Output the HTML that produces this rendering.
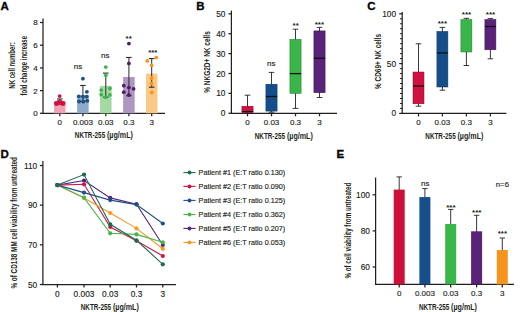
<!DOCTYPE html>
<html><head><meta charset="utf-8"><style>
html,body{margin:0;padding:0;background:#fff;}
body{width:520px;height:312px;overflow:hidden;}
svg{display:block;font-family:"Liberation Sans", sans-serif;}
</style></head><body>
<svg width="520" height="312" viewBox="0 0 520 312">
<rect width="520" height="312" fill="#fff"/>
<text x="0.6" y="10.0" font-size="11.5" font-weight="bold" fill="#000" stroke="#000" stroke-width="0.3">A</text>
<line x1="43.0" y1="18.5" x2="43.0" y2="113.85" stroke="#231f20" stroke-width="1.25"/>
<line x1="42.45" y1="113.3" x2="165" y2="113.3" stroke="#231f20" stroke-width="1.25"/>
<line x1="40.0" y1="113.3" x2="43.0" y2="113.3" stroke="#231f20" stroke-width="1.25"/>
<text x="37.7" y="116.2" font-size="8" text-anchor="end" fill="#231f20" stroke="#231f20" stroke-width="0.15">0</text>
<line x1="40.0" y1="90.6" x2="43.0" y2="90.6" stroke="#231f20" stroke-width="1.25"/>
<text x="37.7" y="93.5" font-size="8" text-anchor="end" fill="#231f20" stroke="#231f20" stroke-width="0.15">2</text>
<line x1="40.0" y1="67.9" x2="43.0" y2="67.9" stroke="#231f20" stroke-width="1.25"/>
<text x="37.7" y="70.8" font-size="8" text-anchor="end" fill="#231f20" stroke="#231f20" stroke-width="0.15">4</text>
<line x1="40.0" y1="45.2" x2="43.0" y2="45.2" stroke="#231f20" stroke-width="1.25"/>
<text x="37.7" y="48.1" font-size="8" text-anchor="end" fill="#231f20" stroke="#231f20" stroke-width="0.15">6</text>
<line x1="40.0" y1="22.5" x2="43.0" y2="22.5" stroke="#231f20" stroke-width="1.25"/>
<text x="37.7" y="25.4" font-size="8" text-anchor="end" fill="#231f20" stroke="#231f20" stroke-width="0.15">8</text>
<text x="14.9" y="65.5" font-size="8.7" text-anchor="middle" font-weight="bold" textLength="46.5" lengthAdjust="spacingAndGlyphs" transform="rotate(-90 14.9 65.5)" fill="#231f20">NK cell number:</text>
<text x="26.6" y="65.75" font-size="8.7" text-anchor="middle" font-weight="bold" textLength="59.5" lengthAdjust="spacingAndGlyphs" transform="rotate(-90 26.6 65.75)" fill="#231f20">fold change increase</text>
<line x1="59.8" y1="113.3" x2="59.8" y2="116.3" stroke="#231f20" stroke-width="1.25"/>
<text x="59.8" y="125.4" font-size="8" text-anchor="middle" fill="#231f20" stroke="#231f20" stroke-width="0.15">0</text>
<line x1="82.9" y1="113.3" x2="82.9" y2="116.3" stroke="#231f20" stroke-width="1.25"/>
<text x="82.9" y="125.4" font-size="8" text-anchor="middle" fill="#231f20" stroke="#231f20" stroke-width="0.15">0.003</text>
<line x1="105.8" y1="113.3" x2="105.8" y2="116.3" stroke="#231f20" stroke-width="1.25"/>
<text x="105.8" y="125.4" font-size="8" text-anchor="middle" fill="#231f20" stroke="#231f20" stroke-width="0.15">0.03</text>
<line x1="128.9" y1="113.3" x2="128.9" y2="116.3" stroke="#231f20" stroke-width="1.25"/>
<text x="128.9" y="125.4" font-size="8" text-anchor="middle" fill="#231f20" stroke="#231f20" stroke-width="0.15">0.3</text>
<line x1="151.7" y1="113.3" x2="151.7" y2="116.3" stroke="#231f20" stroke-width="1.25"/>
<text x="151.7" y="125.4" font-size="8" text-anchor="middle" fill="#231f20" stroke="#231f20" stroke-width="0.15">3</text>
<text x="74.8" y="138.3" font-size="9.1" font-weight="bold" textLength="30.4" lengthAdjust="spacingAndGlyphs" fill="#231f20">NKTR-255</text>
<text x="107.0" y="138.3" font-size="9.1" font-weight="bold" textLength="25.9" lengthAdjust="spacingAndGlyphs" fill="#231f20">(µg/mL)</text>
<rect x="54.05" y="102.52" width="11.50" height="10.78" fill="#f2a2b5"/>
<rect x="77.15" y="95.14" width="11.50" height="18.16" fill="#8dabc9"/>
<rect x="100.05" y="85.83" width="11.50" height="27.47" fill="#a3daa2"/>
<rect x="123.15" y="76.98" width="11.50" height="36.32" fill="#ad96c2"/>
<rect x="145.95" y="73.57" width="11.50" height="39.73" fill="#fcc887"/>
<line x1="59.8" y1="99.0" x2="59.8" y2="102.86" stroke="#2a2a2a" stroke-width="1.0"/>
<line x1="57.0" y1="99.0" x2="62.6" y2="99.0" stroke="#2a2a2a" stroke-width="1.1"/>
<line x1="57.0" y1="102.86" x2="62.6" y2="102.86" stroke="#2a2a2a" stroke-width="1.1"/>
<circle cx="59.70" cy="96.10" r="1.9" fill="#d0123f"/>
<circle cx="55.90" cy="103.00" r="1.9" fill="#d0123f"/>
<circle cx="58.40" cy="101.80" r="1.9" fill="#d0123f"/>
<circle cx="61.00" cy="101.80" r="1.9" fill="#d0123f"/>
<circle cx="63.60" cy="103.00" r="1.9" fill="#d0123f"/>
<circle cx="56.30" cy="104.00" r="1.9" fill="#d0123f"/>
<circle cx="63.20" cy="104.00" r="1.9" fill="#d0123f"/>
<circle cx="58.00" cy="103.60" r="1.9" fill="#d0123f"/>
<circle cx="61.40" cy="103.60" r="1.9" fill="#d0123f"/>
<circle cx="59.70" cy="102.60" r="1.9" fill="#d0123f"/>
<line x1="82.9" y1="85.49" x2="82.9" y2="101.38" stroke="#2a2a2a" stroke-width="1.0"/>
<line x1="80.1" y1="85.49" x2="85.7" y2="85.49" stroke="#2a2a2a" stroke-width="1.1"/>
<line x1="80.1" y1="101.38" x2="85.7" y2="101.38" stroke="#2a2a2a" stroke-width="1.1"/>
<circle cx="82.90" cy="78.70" r="1.9" fill="#1c4f84"/>
<circle cx="86.90" cy="91.80" r="1.9" fill="#1c4f84"/>
<circle cx="78.80" cy="96.30" r="1.9" fill="#1c4f84"/>
<circle cx="83.00" cy="96.60" r="1.9" fill="#1c4f84"/>
<circle cx="86.80" cy="96.60" r="1.9" fill="#1c4f84"/>
<circle cx="79.00" cy="101.50" r="1.9" fill="#1c4f84"/>
<circle cx="83.40" cy="101.70" r="1.9" fill="#1c4f84"/>
<circle cx="87.40" cy="100.80" r="1.9" fill="#1c4f84"/>
<line x1="105.8" y1="73.12" x2="105.8" y2="97.18" stroke="#2a2a2a" stroke-width="1.0"/>
<line x1="103.0" y1="73.12" x2="108.6" y2="73.12" stroke="#2a2a2a" stroke-width="1.1"/>
<line x1="103.0" y1="97.18" x2="108.6" y2="97.18" stroke="#2a2a2a" stroke-width="1.1"/>
<circle cx="105.80" cy="67.10" r="1.9" fill="#3cb54a"/>
<circle cx="105.80" cy="75.20" r="1.9" fill="#3cb54a"/>
<circle cx="101.20" cy="90.10" r="1.9" fill="#3cb54a"/>
<circle cx="109.90" cy="88.50" r="1.9" fill="#3cb54a"/>
<circle cx="101.20" cy="94.70" r="1.9" fill="#3cb54a"/>
<circle cx="109.90" cy="94.90" r="1.9" fill="#3cb54a"/>
<circle cx="105.70" cy="97.20" r="1.9" fill="#3cb54a"/>
<line x1="128.9" y1="57.46" x2="128.9" y2="95.71" stroke="#2a2a2a" stroke-width="1.0"/>
<line x1="126.1" y1="57.46" x2="131.7" y2="57.46" stroke="#2a2a2a" stroke-width="1.1"/>
<line x1="126.1" y1="95.71" x2="131.7" y2="95.71" stroke="#2a2a2a" stroke-width="1.1"/>
<circle cx="128.90" cy="43.60" r="1.9" fill="#4e1f69"/>
<circle cx="128.90" cy="63.40" r="1.9" fill="#4e1f69"/>
<circle cx="123.80" cy="85.70" r="1.9" fill="#4e1f69"/>
<circle cx="128.90" cy="87.60" r="1.9" fill="#4e1f69"/>
<circle cx="133.60" cy="88.80" r="1.9" fill="#4e1f69"/>
<circle cx="123.80" cy="92.20" r="1.9" fill="#4e1f69"/>
<circle cx="128.90" cy="95.00" r="1.9" fill="#4e1f69"/>
<line x1="151.7" y1="58.59" x2="151.7" y2="87.19" stroke="#2a2a2a" stroke-width="1.0"/>
<line x1="148.9" y1="58.59" x2="154.5" y2="58.59" stroke="#2a2a2a" stroke-width="1.1"/>
<line x1="148.9" y1="87.19" x2="154.5" y2="87.19" stroke="#2a2a2a" stroke-width="1.1"/>
<circle cx="147.30" cy="60.90" r="1.9" fill="#f7941d"/>
<circle cx="156.20" cy="57.60" r="1.9" fill="#f7941d"/>
<circle cx="151.60" cy="65.40" r="1.9" fill="#f7941d"/>
<circle cx="151.60" cy="78.00" r="1.9" fill="#f7941d"/>
<circle cx="151.60" cy="83.50" r="1.9" fill="#f7941d"/>
<circle cx="151.80" cy="92.40" r="1.9" fill="#f7941d"/>
<text x="78" y="69.4" font-size="8" text-anchor="middle" fill="#231f20" stroke="#231f20" stroke-width="0.15">ns</text>
<text x="105.2" y="57.9" font-size="8" text-anchor="middle" fill="#231f20" stroke="#231f20" stroke-width="0.15">ns</text>
<text x="128.7" y="40.7" font-size="8" text-anchor="middle" font-weight="bold" fill="#231f20">**</text>
<text x="152.8" y="54.6" font-size="8" text-anchor="middle" font-weight="bold" fill="#231f20">***</text>
<text x="196.2" y="10.0" font-size="11.5" font-weight="bold" fill="#000" stroke="#000" stroke-width="0.3">B</text>
<line x1="231.4" y1="10.6" x2="231.4" y2="113.85" stroke="#231f20" stroke-width="1.25"/>
<line x1="230.85" y1="113.3" x2="337" y2="113.3" stroke="#231f20" stroke-width="1.25"/>
<line x1="228.4" y1="113.3" x2="231.4" y2="113.3" stroke="#231f20" stroke-width="1.25"/>
<text x="225.4" y="116.3" font-size="8.3" text-anchor="end" fill="#231f20" stroke="#231f20" stroke-width="0.15">0</text>
<line x1="228.4" y1="93.4" x2="231.4" y2="93.4" stroke="#231f20" stroke-width="1.25"/>
<text x="225.4" y="96.4" font-size="8.3" text-anchor="end" fill="#231f20" stroke="#231f20" stroke-width="0.15">10</text>
<line x1="228.4" y1="73.5" x2="231.4" y2="73.5" stroke="#231f20" stroke-width="1.25"/>
<text x="225.4" y="76.5" font-size="8.3" text-anchor="end" fill="#231f20" stroke="#231f20" stroke-width="0.15">20</text>
<line x1="228.4" y1="53.6" x2="231.4" y2="53.6" stroke="#231f20" stroke-width="1.25"/>
<text x="225.4" y="56.6" font-size="8.3" text-anchor="end" fill="#231f20" stroke="#231f20" stroke-width="0.15">30</text>
<line x1="228.4" y1="33.7" x2="231.4" y2="33.7" stroke="#231f20" stroke-width="1.25"/>
<text x="225.4" y="36.7" font-size="8.3" text-anchor="end" fill="#231f20" stroke="#231f20" stroke-width="0.15">40</text>
<line x1="228.4" y1="13.8" x2="231.4" y2="13.8" stroke="#231f20" stroke-width="1.25"/>
<text x="225.4" y="16.8" font-size="8.3" text-anchor="end" fill="#231f20" stroke="#231f20" stroke-width="0.15">50</text>
<text x="209.9" y="62.0" font-size="8.7" text-anchor="middle" font-weight="bold" textLength="61.5" lengthAdjust="spacingAndGlyphs" transform="rotate(-90 209.9 62.0)" fill="#231f20">% NKG2D+ NK cells</text>
<line x1="247.5" y1="113.3" x2="247.5" y2="116.3" stroke="#231f20" stroke-width="1.25"/>
<text x="247.5" y="125.4" font-size="8" text-anchor="middle" fill="#231f20" stroke="#231f20" stroke-width="0.15">0</text>
<line x1="271.5" y1="113.3" x2="271.5" y2="116.3" stroke="#231f20" stroke-width="1.25"/>
<text x="271.5" y="125.4" font-size="8" text-anchor="middle" fill="#231f20" stroke="#231f20" stroke-width="0.15">0.03</text>
<line x1="295.5" y1="113.3" x2="295.5" y2="116.3" stroke="#231f20" stroke-width="1.25"/>
<text x="295.5" y="125.4" font-size="8" text-anchor="middle" fill="#231f20" stroke="#231f20" stroke-width="0.15">0.3</text>
<line x1="319.5" y1="113.3" x2="319.5" y2="116.3" stroke="#231f20" stroke-width="1.25"/>
<text x="319.5" y="125.4" font-size="8" text-anchor="middle" fill="#231f20" stroke="#231f20" stroke-width="0.15">3</text>
<text x="254.7" y="138.8" font-size="9.1" font-weight="bold" textLength="30.4" lengthAdjust="spacingAndGlyphs" fill="#231f20">NKTR-255</text>
<text x="286.9" y="138.8" font-size="9.1" font-weight="bold" textLength="25.9" lengthAdjust="spacingAndGlyphs" fill="#231f20">(µg/mL)</text>
<line x1="247.5" y1="95.2" x2="247.5" y2="113.2" stroke="#222" stroke-width="0.9"/>
<line x1="244.7" y1="95.2" x2="250.3" y2="95.2" stroke="#222" stroke-width="0.9"/>
<line x1="244.7" y1="113.2" x2="250.3" y2="113.2" stroke="#222" stroke-width="0.9"/>
<rect x="241.90" y="106.20" width="11.20" height="6.40" fill="#cf1241" stroke="#8d0c2c" stroke-width="0.5"/>
<line x1="241.9" y1="111.6" x2="253.1" y2="111.6" stroke="#111" stroke-width="1.3"/>
<line x1="271.5" y1="72.4" x2="271.5" y2="112.2" stroke="#222" stroke-width="0.9"/>
<line x1="268.7" y1="72.4" x2="274.3" y2="72.4" stroke="#222" stroke-width="0.9"/>
<line x1="268.7" y1="112.2" x2="274.3" y2="112.2" stroke="#222" stroke-width="0.9"/>
<rect x="265.90" y="84.20" width="11.20" height="26.90" fill="#144f8c" stroke="#0d3766" stroke-width="0.5"/>
<line x1="265.9" y1="96.5" x2="277.1" y2="96.5" stroke="#111" stroke-width="1.3"/>
<line x1="295.5" y1="29.2" x2="295.5" y2="108.4" stroke="#222" stroke-width="0.9"/>
<line x1="292.7" y1="29.2" x2="298.3" y2="29.2" stroke="#222" stroke-width="0.9"/>
<line x1="292.7" y1="108.4" x2="298.3" y2="108.4" stroke="#222" stroke-width="0.9"/>
<rect x="289.90" y="39.40" width="11.20" height="54.00" fill="#3ab54a" stroke="#247a30" stroke-width="0.5"/>
<line x1="289.9" y1="73.6" x2="301.1" y2="73.6" stroke="#111" stroke-width="1.3"/>
<line x1="319.5" y1="27.4" x2="319.5" y2="97.5" stroke="#222" stroke-width="0.9"/>
<line x1="316.7" y1="27.4" x2="322.3" y2="27.4" stroke="#222" stroke-width="0.9"/>
<line x1="316.7" y1="97.5" x2="322.3" y2="97.5" stroke="#222" stroke-width="0.9"/>
<rect x="313.90" y="30.90" width="11.20" height="61.80" fill="#5a2379" stroke="#3b1650" stroke-width="0.5"/>
<line x1="313.9" y1="58.3" x2="325.1" y2="58.3" stroke="#111" stroke-width="1.3"/>
<text x="271.2" y="65.6" font-size="8" text-anchor="middle" fill="#231f20" stroke="#231f20" stroke-width="0.15">ns</text>
<text x="295.7" y="28.0" font-size="8" text-anchor="middle" font-weight="bold" fill="#231f20">**</text>
<text x="319.4" y="26.6" font-size="8" text-anchor="middle" font-weight="bold" fill="#231f20">***</text>
<text x="367.2" y="10.0" font-size="11.5" font-weight="bold" fill="#000" stroke="#000" stroke-width="0.3">C</text>
<line x1="402.2" y1="11.9" x2="402.2" y2="113.95" stroke="#231f20" stroke-width="1.25"/>
<line x1="401.65" y1="113.4" x2="506.4" y2="113.4" stroke="#231f20" stroke-width="1.25"/>
<line x1="399.2" y1="113.4" x2="402.2" y2="113.4" stroke="#231f20" stroke-width="1.25"/>
<text x="396.1" y="116.4" font-size="8.3" text-anchor="end" fill="#231f20" stroke="#231f20" stroke-width="0.15">0</text>
<line x1="400.0" y1="108.42" x2="402.2" y2="108.42" stroke="#231f20" stroke-width="1.0"/>
<line x1="400.0" y1="103.44" x2="402.2" y2="103.44" stroke="#231f20" stroke-width="1.0"/>
<line x1="400.0" y1="98.46" x2="402.2" y2="98.46" stroke="#231f20" stroke-width="1.0"/>
<line x1="400.0" y1="93.48" x2="402.2" y2="93.48" stroke="#231f20" stroke-width="1.0"/>
<line x1="400.0" y1="88.5" x2="402.2" y2="88.5" stroke="#231f20" stroke-width="1.0"/>
<line x1="400.0" y1="83.52" x2="402.2" y2="83.52" stroke="#231f20" stroke-width="1.0"/>
<line x1="400.0" y1="78.54" x2="402.2" y2="78.54" stroke="#231f20" stroke-width="1.0"/>
<line x1="400.0" y1="73.56" x2="402.2" y2="73.56" stroke="#231f20" stroke-width="1.0"/>
<line x1="400.0" y1="68.58" x2="402.2" y2="68.58" stroke="#231f20" stroke-width="1.0"/>
<line x1="399.2" y1="63.6" x2="402.2" y2="63.6" stroke="#231f20" stroke-width="1.25"/>
<text x="396.1" y="66.6" font-size="8.3" text-anchor="end" fill="#231f20" stroke="#231f20" stroke-width="0.15">50</text>
<line x1="400.0" y1="58.62" x2="402.2" y2="58.62" stroke="#231f20" stroke-width="1.0"/>
<line x1="400.0" y1="53.64" x2="402.2" y2="53.64" stroke="#231f20" stroke-width="1.0"/>
<line x1="400.0" y1="48.66" x2="402.2" y2="48.66" stroke="#231f20" stroke-width="1.0"/>
<line x1="400.0" y1="43.68" x2="402.2" y2="43.68" stroke="#231f20" stroke-width="1.0"/>
<line x1="400.0" y1="38.7" x2="402.2" y2="38.7" stroke="#231f20" stroke-width="1.0"/>
<line x1="400.0" y1="33.72" x2="402.2" y2="33.72" stroke="#231f20" stroke-width="1.0"/>
<line x1="400.0" y1="28.74" x2="402.2" y2="28.74" stroke="#231f20" stroke-width="1.0"/>
<line x1="400.0" y1="23.76" x2="402.2" y2="23.76" stroke="#231f20" stroke-width="1.0"/>
<line x1="400.0" y1="18.78" x2="402.2" y2="18.78" stroke="#231f20" stroke-width="1.0"/>
<line x1="399.2" y1="13.8" x2="402.2" y2="13.8" stroke="#231f20" stroke-width="1.25"/>
<text x="396.1" y="16.8" font-size="8.3" text-anchor="end" fill="#231f20" stroke="#231f20" stroke-width="0.15">100</text>
<text x="381.0" y="61.5" font-size="8.7" text-anchor="middle" font-weight="bold" textLength="55" lengthAdjust="spacingAndGlyphs" transform="rotate(-90 381.0 61.5)" fill="#231f20">% CD69+ NK cells</text>
<line x1="418.5" y1="113.4" x2="418.5" y2="116.4" stroke="#231f20" stroke-width="1.25"/>
<text x="418.5" y="125.4" font-size="8" text-anchor="middle" fill="#231f20" stroke="#231f20" stroke-width="0.15">0</text>
<line x1="442.4" y1="113.4" x2="442.4" y2="116.4" stroke="#231f20" stroke-width="1.25"/>
<text x="442.4" y="125.4" font-size="8" text-anchor="middle" fill="#231f20" stroke="#231f20" stroke-width="0.15">0.03</text>
<line x1="466.4" y1="113.4" x2="466.4" y2="116.4" stroke="#231f20" stroke-width="1.25"/>
<text x="466.4" y="125.4" font-size="8" text-anchor="middle" fill="#231f20" stroke="#231f20" stroke-width="0.15">0.3</text>
<line x1="490.4" y1="113.4" x2="490.4" y2="116.4" stroke="#231f20" stroke-width="1.25"/>
<text x="490.4" y="125.4" font-size="8" text-anchor="middle" fill="#231f20" stroke="#231f20" stroke-width="0.15">3</text>
<text x="425.3" y="138.8" font-size="9.1" font-weight="bold" textLength="30.4" lengthAdjust="spacingAndGlyphs" fill="#231f20">NKTR-255</text>
<text x="457.5" y="138.8" font-size="9.1" font-weight="bold" textLength="25.9" lengthAdjust="spacingAndGlyphs" fill="#231f20">(µg/mL)</text>
<line x1="418.5" y1="43.8" x2="418.5" y2="106.2" stroke="#222" stroke-width="0.9"/>
<line x1="415.7" y1="43.8" x2="421.3" y2="43.8" stroke="#222" stroke-width="0.9"/>
<line x1="415.7" y1="106.2" x2="421.3" y2="106.2" stroke="#222" stroke-width="0.9"/>
<rect x="413.00" y="72.00" width="11.00" height="31.80" fill="#cf1241" stroke="#8d0c2c" stroke-width="0.5"/>
<line x1="413.0" y1="86.0" x2="424.0" y2="86.0" stroke="#111" stroke-width="1.3"/>
<line x1="442.4" y1="27.4" x2="442.4" y2="90.2" stroke="#222" stroke-width="0.9"/>
<line x1="439.6" y1="27.4" x2="445.2" y2="27.4" stroke="#222" stroke-width="0.9"/>
<line x1="439.6" y1="90.2" x2="445.2" y2="90.2" stroke="#222" stroke-width="0.9"/>
<rect x="436.90" y="31.40" width="11.00" height="55.60" fill="#144f8c" stroke="#0d3766" stroke-width="0.5"/>
<line x1="436.9" y1="52.9" x2="447.9" y2="52.9" stroke="#111" stroke-width="1.3"/>
<line x1="466.4" y1="18.3" x2="466.4" y2="65.5" stroke="#222" stroke-width="0.9"/>
<line x1="463.6" y1="18.3" x2="469.2" y2="18.3" stroke="#222" stroke-width="0.9"/>
<line x1="463.6" y1="65.5" x2="469.2" y2="65.5" stroke="#222" stroke-width="0.9"/>
<rect x="460.90" y="19.60" width="11.00" height="32.40" fill="#3ab54a" stroke="#247a30" stroke-width="0.5"/>
<line x1="490.4" y1="18.6" x2="490.4" y2="58.8" stroke="#222" stroke-width="0.9"/>
<line x1="487.6" y1="18.6" x2="493.2" y2="18.6" stroke="#222" stroke-width="0.9"/>
<line x1="487.6" y1="58.8" x2="493.2" y2="58.8" stroke="#222" stroke-width="0.9"/>
<rect x="484.90" y="19.50" width="11.00" height="30.30" fill="#5a2379" stroke="#3b1650" stroke-width="0.5"/>
<line x1="484.9" y1="26.5" x2="495.9" y2="26.5" stroke="#111" stroke-width="1.3"/>
<text x="442.4" y="26.4" font-size="8" text-anchor="middle" font-weight="bold" fill="#231f20">***</text>
<text x="466.5" y="17.1" font-size="8" text-anchor="middle" font-weight="bold" fill="#231f20">***</text>
<text x="490.5" y="17.1" font-size="8" text-anchor="middle" font-weight="bold" fill="#231f20">***</text>
<text x="0.4" y="158.1" font-size="11.5" font-weight="bold" fill="#000" stroke="#000" stroke-width="0.3">D</text>
<line x1="42.9" y1="161.0" x2="42.9" y2="285.05" stroke="#231f20" stroke-width="1.25"/>
<line x1="42.35" y1="284.5" x2="176" y2="284.5" stroke="#231f20" stroke-width="1.25"/>
<line x1="39.9" y1="284.5" x2="42.9" y2="284.5" stroke="#231f20" stroke-width="1.25"/>
<text x="37.2" y="287.5" font-size="8.3" text-anchor="end" fill="#231f20" stroke="#231f20" stroke-width="0.15">50</text>
<line x1="39.9" y1="244.84" x2="42.9" y2="244.84" stroke="#231f20" stroke-width="1.25"/>
<text x="37.2" y="247.84" font-size="8.3" text-anchor="end" fill="#231f20" stroke="#231f20" stroke-width="0.15">70</text>
<line x1="39.9" y1="205.18" x2="42.9" y2="205.18" stroke="#231f20" stroke-width="1.25"/>
<text x="37.2" y="208.18" font-size="8.3" text-anchor="end" fill="#231f20" stroke="#231f20" stroke-width="0.15">90</text>
<line x1="39.9" y1="165.52" x2="42.9" y2="165.52" stroke="#231f20" stroke-width="1.25"/>
<text x="37.2" y="168.52" font-size="8.3" text-anchor="end" fill="#231f20" stroke="#231f20" stroke-width="0.15">110</text>
<text x="17.0" y="222.8" font-size="8.7" text-anchor="middle" font-weight="bold" textLength="131.5" lengthAdjust="spacingAndGlyphs" transform="rotate(-90 17.0 222.8)" fill="#231f20">% of CD138 MM cell viability from untreated</text>
<line x1="57.4" y1="284.5" x2="57.4" y2="287.5" stroke="#231f20" stroke-width="1.25"/>
<text x="57.4" y="296.6" font-size="8.3" text-anchor="middle" fill="#231f20" stroke="#231f20" stroke-width="0.15">0</text>
<line x1="84.0" y1="284.5" x2="84.0" y2="287.5" stroke="#231f20" stroke-width="1.25"/>
<text x="84.0" y="296.6" font-size="8.3" text-anchor="middle" fill="#231f20" stroke="#231f20" stroke-width="0.15">0.003</text>
<line x1="110.2" y1="284.5" x2="110.2" y2="287.5" stroke="#231f20" stroke-width="1.25"/>
<text x="110.2" y="296.6" font-size="8.3" text-anchor="middle" fill="#231f20" stroke="#231f20" stroke-width="0.15">0.03</text>
<line x1="136.5" y1="284.5" x2="136.5" y2="287.5" stroke="#231f20" stroke-width="1.25"/>
<text x="136.5" y="296.6" font-size="8.3" text-anchor="middle" fill="#231f20" stroke="#231f20" stroke-width="0.15">0.3</text>
<line x1="162.8" y1="284.5" x2="162.8" y2="287.5" stroke="#231f20" stroke-width="1.25"/>
<text x="162.8" y="296.6" font-size="8.3" text-anchor="middle" fill="#231f20" stroke="#231f20" stroke-width="0.15">3</text>
<text x="80.7" y="309.9" font-size="9.1" font-weight="bold" textLength="30.4" lengthAdjust="spacingAndGlyphs" fill="#231f20">NKTR-255</text>
<text x="112.9" y="309.9" font-size="9.1" font-weight="bold" textLength="25.9" lengthAdjust="spacingAndGlyphs" fill="#231f20">(µg/mL)</text>
<polyline points="57.4,185.1 84.0,180.5 110.2,197.9 136.5,204.2 162.8,245.0" fill="none" stroke="#54267a" stroke-width="1.1"/>
<circle cx="57.40" cy="185.10" r="2.1" fill="#54267a"/>
<circle cx="84.00" cy="180.50" r="2.1" fill="#54267a"/>
<circle cx="110.20" cy="197.90" r="2.1" fill="#54267a"/>
<circle cx="136.50" cy="204.20" r="2.1" fill="#54267a"/>
<circle cx="162.80" cy="245.00" r="2.1" fill="#54267a"/>
<polyline points="57.4,185.1 84.0,184.3 110.2,227.0 136.5,240.8 162.8,256.0" fill="none" stroke="#cc1848" stroke-width="1.1"/>
<circle cx="57.40" cy="185.10" r="2.1" fill="#cc1848"/>
<circle cx="84.00" cy="184.30" r="2.1" fill="#cc1848"/>
<circle cx="110.20" cy="227.00" r="2.1" fill="#cc1848"/>
<circle cx="136.50" cy="240.80" r="2.1" fill="#cc1848"/>
<circle cx="162.80" cy="256.00" r="2.1" fill="#cc1848"/>
<polyline points="57.4,185.1 84.0,197.9 110.2,213.0 136.5,228.4 162.8,248.8" fill="none" stroke="#f59a23" stroke-width="1.1"/>
<circle cx="57.40" cy="185.10" r="2.1" fill="#f59a23"/>
<circle cx="84.00" cy="197.90" r="2.1" fill="#f59a23"/>
<circle cx="110.20" cy="213.00" r="2.1" fill="#f59a23"/>
<circle cx="136.50" cy="228.40" r="2.1" fill="#f59a23"/>
<circle cx="162.80" cy="248.80" r="2.1" fill="#f59a23"/>
<polyline points="57.4,185.1 84.0,197.6 110.2,233.3 136.5,234.4 162.8,242.3" fill="none" stroke="#45b649" stroke-width="1.1"/>
<circle cx="57.40" cy="185.10" r="2.1" fill="#45b649"/>
<circle cx="84.00" cy="197.60" r="2.1" fill="#45b649"/>
<circle cx="110.20" cy="233.30" r="2.1" fill="#45b649"/>
<circle cx="136.50" cy="234.40" r="2.1" fill="#45b649"/>
<circle cx="162.80" cy="242.30" r="2.1" fill="#45b649"/>
<polyline points="57.4,185.1 84.0,192.6 110.2,200.1 136.5,204.6 162.8,223.5" fill="none" stroke="#1f4f86" stroke-width="1.1"/>
<circle cx="57.40" cy="185.10" r="2.1" fill="#1f4f86"/>
<circle cx="84.00" cy="192.60" r="2.1" fill="#1f4f86"/>
<circle cx="110.20" cy="200.10" r="2.1" fill="#1f4f86"/>
<circle cx="136.50" cy="204.60" r="2.1" fill="#1f4f86"/>
<circle cx="162.80" cy="223.50" r="2.1" fill="#1f4f86"/>
<polyline points="57.4,185.1 84.0,174.6 110.2,224.3 136.5,240.3 162.8,264.3" fill="none" stroke="#1c6b52" stroke-width="1.1"/>
<circle cx="57.40" cy="185.10" r="2.1" fill="#1c6b52"/>
<circle cx="84.00" cy="174.60" r="2.1" fill="#1c6b52"/>
<circle cx="110.20" cy="224.30" r="2.1" fill="#1c6b52"/>
<circle cx="136.50" cy="240.30" r="2.1" fill="#1c6b52"/>
<circle cx="162.80" cy="264.30" r="2.1" fill="#1c6b52"/>
<line x1="183.4" y1="172.6" x2="195.6" y2="172.6" stroke="#1c6b52" stroke-width="1.1"/>
<circle cx="189.50" cy="172.60" r="2.0" fill="#1c6b52"/>
<text x="198.6" y="175.2" font-size="7.3" textLength="86.5" lengthAdjust="spacingAndGlyphs" fill="#231f20" stroke="#231f20" stroke-width="0.15">Patient #1 (E:T ratio 0.130)</text>
<line x1="183.4" y1="186.4" x2="195.6" y2="186.4" stroke="#cc1848" stroke-width="1.1"/>
<circle cx="189.50" cy="186.40" r="2.0" fill="#cc1848"/>
<text x="198.6" y="189.0" font-size="7.3" textLength="86.5" lengthAdjust="spacingAndGlyphs" fill="#231f20" stroke="#231f20" stroke-width="0.15">Patient #2 (E:T ratio 0.090)</text>
<line x1="183.4" y1="200.4" x2="195.6" y2="200.4" stroke="#1f4f86" stroke-width="1.1"/>
<circle cx="189.50" cy="200.40" r="2.0" fill="#1f4f86"/>
<text x="198.6" y="203.0" font-size="7.3" textLength="86.5" lengthAdjust="spacingAndGlyphs" fill="#231f20" stroke="#231f20" stroke-width="0.15">Patient #3 (E:T ratio 0.125)</text>
<line x1="183.4" y1="214.5" x2="195.6" y2="214.5" stroke="#45b649" stroke-width="1.1"/>
<circle cx="189.50" cy="214.50" r="2.0" fill="#45b649"/>
<text x="198.6" y="217.1" font-size="7.3" textLength="86.5" lengthAdjust="spacingAndGlyphs" fill="#231f20" stroke="#231f20" stroke-width="0.15">Patient #4 (E:T ratio 0.362)</text>
<line x1="183.4" y1="228.4" x2="195.6" y2="228.4" stroke="#54267a" stroke-width="1.1"/>
<circle cx="189.50" cy="228.40" r="2.0" fill="#54267a"/>
<text x="198.6" y="231.0" font-size="7.3" textLength="86.5" lengthAdjust="spacingAndGlyphs" fill="#231f20" stroke="#231f20" stroke-width="0.15">Patient #5 (E:T ratio 0.207)</text>
<line x1="183.4" y1="242.4" x2="195.6" y2="242.4" stroke="#f59a23" stroke-width="1.1"/>
<circle cx="189.50" cy="242.40" r="2.0" fill="#f59a23"/>
<text x="198.6" y="245.0" font-size="7.3" textLength="86.5" lengthAdjust="spacingAndGlyphs" fill="#231f20" stroke="#231f20" stroke-width="0.15">Patient #6 (E:T ratio 0.053)</text>
<text x="336.6" y="158.0" font-size="11.5" font-weight="bold" fill="#000" stroke="#000" stroke-width="0.3">E</text>
<line x1="375.6" y1="177.5" x2="375.6" y2="284.95" stroke="#231f20" stroke-width="1.25"/>
<line x1="375.05" y1="284.4" x2="514" y2="284.4" stroke="#231f20" stroke-width="1.25"/>
<line x1="372.6" y1="267.0" x2="375.6" y2="267.0" stroke="#231f20" stroke-width="1.25"/>
<text x="369.9" y="270.0" font-size="8.3" text-anchor="end" fill="#231f20" stroke="#231f20" stroke-width="0.15">60</text>
<line x1="372.6" y1="230.9" x2="375.6" y2="230.9" stroke="#231f20" stroke-width="1.25"/>
<text x="369.9" y="233.9" font-size="8.3" text-anchor="end" fill="#231f20" stroke="#231f20" stroke-width="0.15">80</text>
<line x1="372.6" y1="194.8" x2="375.6" y2="194.8" stroke="#231f20" stroke-width="1.25"/>
<text x="369.9" y="197.8" font-size="8.3" text-anchor="end" fill="#231f20" stroke="#231f20" stroke-width="0.15">100</text>
<text x="351.2" y="230.6" font-size="8.7" text-anchor="middle" font-weight="bold" textLength="95.8" lengthAdjust="spacingAndGlyphs" transform="rotate(-90 351.2 230.6)" fill="#231f20">% of cell viability from untreated</text>
<line x1="399.2" y1="176.9" x2="399.2" y2="191.6" stroke="#222" stroke-width="0.9"/>
<line x1="396.5" y1="176.9" x2="401.9" y2="176.9" stroke="#222" stroke-width="0.9"/>
<rect x="393.70" y="189.60" width="11.00" height="94.80" fill="#cc103a"/>
<line x1="424.9" y1="188.6" x2="424.9" y2="199.1" stroke="#222" stroke-width="0.9"/>
<line x1="422.2" y1="188.6" x2="427.6" y2="188.6" stroke="#222" stroke-width="0.9"/>
<rect x="419.40" y="197.10" width="11.00" height="87.30" fill="#144f8c"/>
<line x1="450.7" y1="209.4" x2="450.7" y2="226.0" stroke="#222" stroke-width="0.9"/>
<line x1="448.0" y1="209.4" x2="453.4" y2="209.4" stroke="#222" stroke-width="0.9"/>
<rect x="445.20" y="224.00" width="11.00" height="60.40" fill="#3ab54a"/>
<line x1="476.6" y1="215.3" x2="476.6" y2="233.3" stroke="#222" stroke-width="0.9"/>
<line x1="473.9" y1="215.3" x2="479.3" y2="215.3" stroke="#222" stroke-width="0.9"/>
<rect x="471.10" y="231.30" width="11.00" height="53.10" fill="#5a2379"/>
<line x1="502.3" y1="238.0" x2="502.3" y2="252.0" stroke="#222" stroke-width="0.9"/>
<line x1="499.6" y1="238.0" x2="505.0" y2="238.0" stroke="#222" stroke-width="0.9"/>
<rect x="496.80" y="250.00" width="11.00" height="34.40" fill="#f7941d"/>
<line x1="399.2" y1="284.4" x2="399.2" y2="287.4" stroke="#231f20" stroke-width="1.25"/>
<text x="399.2" y="296.1" font-size="8" text-anchor="middle" fill="#231f20" stroke="#231f20" stroke-width="0.15">0</text>
<line x1="424.9" y1="284.4" x2="424.9" y2="287.4" stroke="#231f20" stroke-width="1.25"/>
<text x="424.9" y="296.1" font-size="8" text-anchor="middle" fill="#231f20" stroke="#231f20" stroke-width="0.15">0.003</text>
<line x1="450.7" y1="284.4" x2="450.7" y2="287.4" stroke="#231f20" stroke-width="1.25"/>
<text x="450.7" y="296.1" font-size="8" text-anchor="middle" fill="#231f20" stroke="#231f20" stroke-width="0.15">0.03</text>
<line x1="476.6" y1="284.4" x2="476.6" y2="287.4" stroke="#231f20" stroke-width="1.25"/>
<text x="476.6" y="296.1" font-size="8" text-anchor="middle" fill="#231f20" stroke="#231f20" stroke-width="0.15">0.3</text>
<line x1="502.3" y1="284.4" x2="502.3" y2="287.4" stroke="#231f20" stroke-width="1.25"/>
<text x="502.3" y="296.1" font-size="8" text-anchor="middle" fill="#231f20" stroke="#231f20" stroke-width="0.15">3</text>
<text x="418.9" y="310.3" font-size="9.1" font-weight="bold" textLength="30.4" lengthAdjust="spacingAndGlyphs" fill="#231f20">NKTR-255</text>
<text x="451.1" y="310.3" font-size="9.1" font-weight="bold" textLength="25.9" lengthAdjust="spacingAndGlyphs" fill="#231f20">(µg/mL)</text>
<text x="425.2" y="186.4" font-size="8" text-anchor="middle" fill="#231f20" stroke="#231f20" stroke-width="0.15">ns</text>
<text x="450.9" y="209.7" font-size="8" text-anchor="middle" font-weight="bold" fill="#231f20">***</text>
<text x="476.7" y="214.8" font-size="8" text-anchor="middle" font-weight="bold" fill="#231f20">***</text>
<text x="502.4" y="236.4" font-size="8" text-anchor="middle" font-weight="bold" fill="#231f20">***</text>
<text x="495.8" y="186.7" font-size="7.8" textLength="13.2" lengthAdjust="spacingAndGlyphs" fill="#231f20" stroke="#231f20" stroke-width="0.15">n=6</text>
</svg>
</body></html>
